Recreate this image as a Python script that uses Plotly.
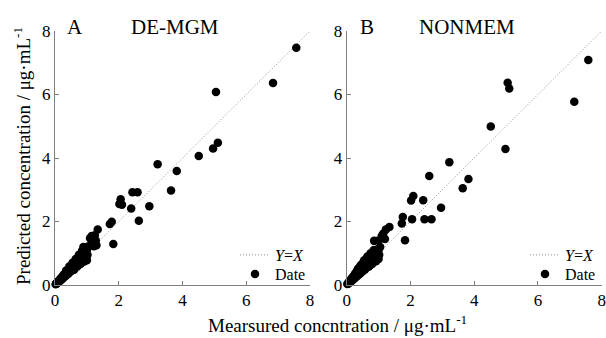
import plotly.graph_objects as go

# ---------------- data ----------------
line_x = [0, 8]
line_y = [0, 8]

a_x = [0.02, 0.04, 0.05, 0.06, 0.08, 0.09, 0.10, 0.12, 0.13, 0.15, 0.16, 0.17, 0.19, 0.20, 0.21,
       0.23, 0.24, 0.25, 0.27, 0.28, 0.30, 0.31, 0.33, 0.34, 0.36, 0.37, 0.39, 0.40, 0.42, 0.43,
       0.45, 0.46, 0.48, 0.50, 0.51, 0.53, 0.55, 0.56, 0.58, 0.60, 0.61, 0.63, 0.65, 0.66, 0.68,
       0.70, 0.71, 0.73, 0.75, 0.76, 0.78, 0.80, 0.81, 0.83, 0.85, 0.86, 0.88, 0.90, 0.92, 0.94,
       0.96, 0.98, 1.00, 1.02, 0.89, 1.05, 1.10, 1.15, 1.20, 1.22, 1.25, 1.28, 1.30, 1.34, 0.93,
       0.55, 0.65, 0.75, 0.85, 0.70, 0.80, 0.92, 1.00, 0.60, 0.45, 0.35,
       1.72, 1.78, 1.83, 2.02, 2.06, 2.10, 2.39, 2.43, 2.59, 2.63, 2.96, 3.22, 3.64, 3.82, 4.51,
       4.96, 5.05, 5.11, 6.84, 7.57]
a_y = [0.02, 0.05, 0.04, 0.07, 0.08, 0.11, 0.09, 0.13, 0.11, 0.16, 0.19, 0.14, 0.20, 0.23, 0.18,
       0.25, 0.28, 0.21, 0.29, 0.33, 0.26, 0.34, 0.38, 0.29, 0.40, 0.44, 0.34, 0.45, 0.49, 0.37,
       0.50, 0.55, 0.42, 0.55, 0.60, 0.46, 0.61, 0.66, 0.50, 0.66, 0.72, 0.55, 0.71, 0.78, 0.59,
       0.77, 0.84, 0.63, 0.82, 0.90, 0.67, 0.88, 0.96, 0.72, 0.93, 1.00, 0.76, 0.95, 1.05, 0.80,
       0.92, 0.85, 1.10, 0.95, 1.20, 1.22, 1.47, 1.54, 1.35, 1.22, 1.57, 1.40, 1.25, 1.75, 1.10,
       0.70, 0.82, 0.95, 1.08, 0.58, 0.66, 0.74, 0.78, 0.48, 0.58, 0.46,
       1.92, 1.99, 1.29, 2.55, 2.70, 2.53, 2.41, 2.92, 2.92, 2.02, 2.48, 3.80, 2.98, 3.59, 4.06,
       4.30, 6.08, 4.48, 6.36, 7.47]

b_x = [0.02, 0.04, 0.05, 0.06, 0.08, 0.09, 0.10, 0.12, 0.13, 0.15, 0.16, 0.17, 0.19, 0.20, 0.21,
       0.23, 0.24, 0.25, 0.27, 0.28, 0.30, 0.31, 0.33, 0.34, 0.36, 0.37, 0.39, 0.40, 0.42, 0.43,
       0.45, 0.46, 0.48, 0.50, 0.51, 0.53, 0.55, 0.56, 0.58, 0.60, 0.61, 0.63, 0.65, 0.66, 0.68,
       0.70, 0.71, 0.73, 0.75, 0.76, 0.78, 0.80, 0.81, 0.83, 0.85, 0.86, 0.88, 0.90, 0.92, 0.94,
       0.96, 0.98, 1.00, 1.02, 0.86, 1.00, 1.10, 1.15, 1.20, 1.23, 1.34, 1.05, 0.95,
       0.55, 0.65, 0.75, 0.85, 0.70, 0.80, 0.92, 1.00, 0.45, 0.35,
       1.73, 1.76, 1.83, 2.02, 2.05, 2.09, 2.40, 2.44, 2.59, 2.66, 2.96, 3.22, 3.64, 3.82, 4.52,
       4.98, 5.05, 5.10, 7.14, 7.58]
b_y = [0.03, 0.05, 0.04, 0.08, 0.08, 0.12, 0.09, 0.15, 0.11, 0.18, 0.21, 0.14, 0.23, 0.26, 0.18,
       0.28, 0.32, 0.21, 0.33, 0.38, 0.26, 0.40, 0.45, 0.29, 0.46, 0.52, 0.34, 0.53, 0.58, 0.37,
       0.58, 0.64, 0.42, 0.64, 0.70, 0.46, 0.70, 0.76, 0.50, 0.75, 0.82, 0.55, 0.80, 0.88, 0.59,
       0.86, 0.93, 0.63, 0.90, 0.97, 0.67, 0.95, 1.00, 0.72, 0.98, 1.02, 0.76, 1.00, 1.05, 0.80,
       0.92, 0.85, 1.10, 0.95, 1.39, 1.40, 1.55, 1.62, 1.45, 1.75, 1.83, 1.20, 1.12,
       0.78, 0.90, 1.00, 1.10, 0.58, 0.66, 0.75, 0.82, 0.62, 0.50,
       1.94, 2.14, 1.41, 2.66, 2.07, 2.80, 2.67, 2.07, 3.43, 2.07, 2.43, 3.87, 3.05, 3.34, 4.99,
       4.28, 6.37, 6.19, 5.77, 7.09]

panel_letters = ["A", "B"]
panel_titles = ["DE-MGM", "NONMEM"]
tick_vals = [0, 2, 4, 6, 8]
x_title = "Mearsured concntration / μg·mL<sup>-1</sup>"
y_title = "Predicted concentration / μg·mL<sup>-1</sup>"

FONT = "Liberation Serif, Times New Roman, Times, serif"
W, H = 606, 338


def px(x):
    return x / W


def py(y):
    return 1 - y / H


fig = go.Figure()

line_style = dict(color="#909090", width=1, dash="1px,2px")
mark_style = dict(color="black", size=8.5)

# Panel A
fig.add_trace(go.Scatter(x=line_x, y=line_y, mode="lines", name="<i>Y</i>=<i>X</i>",
                         line=line_style, showlegend=True, xaxis="x", yaxis="y", legend="legend"))
fig.add_trace(go.Scatter(x=a_x, y=a_y, mode="markers", name="Date", marker=mark_style,
                         showlegend=True, cliponaxis=False, xaxis="x", yaxis="y", legend="legend2"))
# Panel B
fig.add_trace(go.Scatter(x=line_x, y=line_y, mode="lines", name="<i>Y</i>=<i>X</i>",
                         line=line_style, showlegend=True, xaxis="x2", yaxis="y2", legend="legend3"))
fig.add_trace(go.Scatter(x=b_x, y=b_y, mode="markers", name="Date", marker=mark_style,
                         showlegend=True, cliponaxis=False, xaxis="x2", yaxis="y2", legend="legend4"))

axis_common = dict(range=[0, 8], tickvals=tick_vals, showline=True, linecolor="#808080",
                   linewidth=1, ticks="inside", ticklen=4, tickcolor="#808080",
                   showgrid=False, zeroline=False, automargin=False,
                   tickfont=dict(family=FONT, size=17, color="black"), fixedrange=True)


def legend_at(xp, yp):
    return dict(x=px(xp), y=py(yp), xanchor="left", yanchor="middle",
                bgcolor="rgba(0,0,0,0)", borderwidth=0, visible=True,
                font=dict(family=FONT, size=16, color="black"), itemwidth=30)


ydom = [py(285), py(31)]
fig.update_layout(
    width=W, height=H,
    showlegend=True,
    margin=dict(l=0, r=0, t=0, b=0, autoexpand=False),
    paper_bgcolor="white", plot_bgcolor="white",
    font=dict(family=FONT, color="black"),
    xaxis=dict(domain=[px(55), px(310)], anchor="y", **axis_common),
    yaxis=dict(domain=ydom, anchor="x", **axis_common),
    xaxis2=dict(domain=[px(346.7), px(601.7)], anchor="y2", **axis_common),
    yaxis2=dict(domain=ydom, anchor="x2", **axis_common),
    legend=legend_at(235, 255),
    legend2=legend_at(235, 274),
    legend3=legend_at(525, 255),
    legend4=legend_at(525, 274),
)

annotations = [
    dict(text=panel_letters[0], x=px(75), y=py(27)),
    dict(text=panel_titles[0], x=px(175), y=py(27)),
    dict(text=panel_letters[1], x=px(367), y=py(27)),
    dict(text=panel_titles[1], x=px(467), y=py(27)),
]
annotations = [dict(a, xref="paper", yref="paper", showarrow=False,
                    font=dict(family=FONT, size=21, color="black"),
                    xanchor="center", yanchor="middle") for a in annotations]
annotations += [
    dict(text=y_title, x=px(22), y=py(156), xref="paper", yref="paper", textangle=-90,
         showarrow=False, font=dict(family=FONT, size=19, color="black"),
         xanchor="center", yanchor="middle"),
    dict(text=x_title, x=px(337), y=py(324), xref="paper", yref="paper",
         showarrow=False, font=dict(family=FONT, size=19, color="black"),
         xanchor="center", yanchor="middle"),
]
fig.update_layout(annotations=annotations)

post = ("document.documentElement.style.margin='0';"
        "document.body.style.margin='0';document.body.style.padding='0';"
        "document.body.style.overflow='hidden';"
        "var gd=document.getElementById('{plot_id}');"
        "gd.style.position='fixed';gd.style.left='0px';gd.style.top='0px';"
        "gd.style.width='606px';gd.style.height='338px';")

fig.write_html("out.html", post_script=post, config={"displayModeBar": False})
